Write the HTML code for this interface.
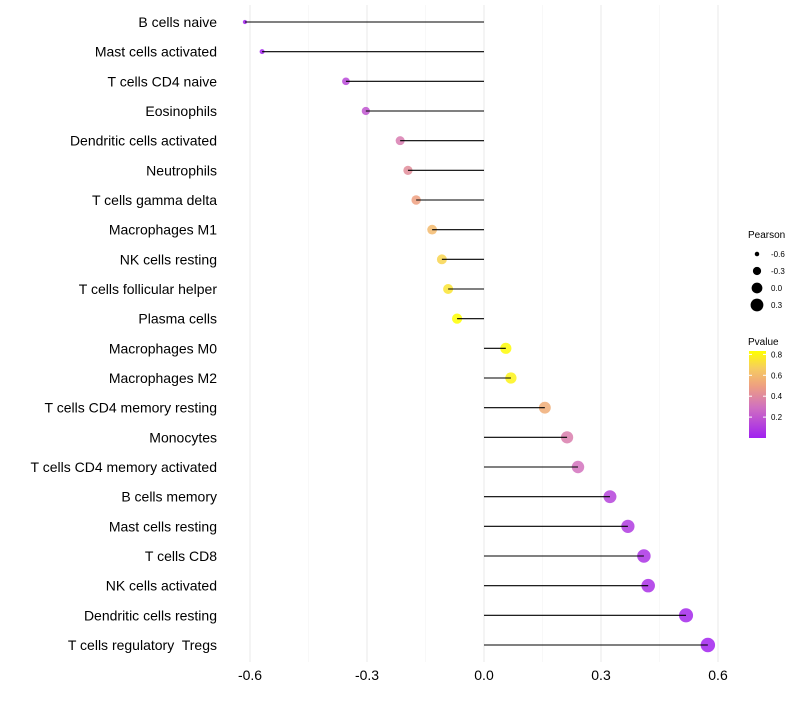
<!DOCTYPE html>
<html><head><meta charset="utf-8"><style>
body{margin:0;background:#fff;font-family:"Liberation Sans",sans-serif;}
svg text{font-family:"Liberation Sans",sans-serif;white-space:pre;}
</style></head><body>
<svg id="chart" width="800" height="700" xmlns="http://www.w3.org/2000/svg">
<defs><linearGradient id="pgrad" x1="0" y1="1" x2="0" y2="0">
<stop offset="0" stop-color="#a020f0"/><stop offset="0.35" stop-color="#d070c0"/><stop offset="0.6" stop-color="#eea080"/><stop offset="0.8" stop-color="#f6cc60"/><stop offset="1" stop-color="#ffff00"/>
</linearGradient></defs>
<g id="grid"></g>
<g id="marks"></g>
<g id="axes"></g>
<g>
<text x="748" y="238" font-size="10">Pearson</text>
<g id="sizeLeg"></g>
</g>
<g>
<text x="748" y="345" font-size="10">Pvalue</text>
<rect x="749" y="351" width="17" height="87" fill="url(#pgrad)"/>
<g id="colLeg"></g>
</g>
</svg>
<script>
const categories=["B cells naive","Mast cells activated","T cells CD4 naive","Eosinophils","Dendritic cells activated","Neutrophils","T cells gamma delta","Macrophages M1","NK cells resting","T cells follicular helper","Plasma cells","Macrophages M0","Macrophages M2","T cells CD4 memory resting","Monocytes","T cells CD4 memory activated","B cells memory","Mast cells resting","T cells CD8","NK cells activated","Dendritic cells resting","T cells regulatory  Tregs"];
const pearson=[-0.613,-0.569,-0.354,-0.303,-0.215,-0.195,-0.174,-0.133,-0.108,-0.092,-0.069,0.056,0.069,0.156,0.213,0.241,0.323,0.369,0.41,0.421,0.518,0.574];
const pvalue=[0.01,0.02,0.15,0.2,0.35,0.42,0.5,0.6,0.7,0.75,0.84,0.83,0.8,0.55,0.36,0.31,0.13,0.1,0.07,0.06,0.03,0.01];
const xTicks=[-0.6,-0.3,0.0,0.3,0.6];
const xTickLabels=["-0.6","-0.3","0.0","0.3","0.6"];
const sizeLegVals=[-0.6,-0.3,0.0,0.3];
const colLegVals=[0.2,0.4,0.6,0.8];

const NS="http://www.w3.org/2000/svg";
const X=v=>484+v*390;
const Y=i=>22+i*(623/21);
const R=v=>Math.sqrt(Math.max(2,29+40*v));
const P2Y=p=>438-p*104.5;
const stops=[[0,[160,32,240]],[0.3,[208,112,192]],[0.5,[238,160,128]],[0.67,[246,204,96]],[0.84,[255,255,0]]];
function col(p){p=Math.max(0,Math.min(0.84,p));for(let k=1;k<stops.length;k++){if(p<=stops[k][0]){const a=stops[k-1],b=stops[k],t=(p-a[0])/(b[0]-a[0]);return "rgb("+a[1].map((c,j)=>Math.round(c+(b[1][j]-c)*t)).join(",")+")";}}return "rgb(255,255,0)";}
function mk(tag,attrs,parent){const e=document.createElementNS(NS,tag);for(const k in attrs)e.setAttribute(k,attrs[k]);parent.appendChild(e);return e;}
const grid=document.getElementById('grid'),marks=document.getElementById('marks'),axes=document.getElementById('axes');
for(let k=0;k<xTicks.length;k++){
 const l=mk('line',{x1:X(xTicks[k]),x2:X(xTicks[k]),y1:5,y2:662,stroke:'#ebebeb','stroke-width':1.1},grid);
 
 
 if(k<xTicks.length-1){const m=(xTicks[k]+xTicks[k+1])/2;
 const l2=mk('line',{x1:X(m),x2:X(m),y1:5,y2:662,stroke:'#f4f4f4','stroke-width':0.6},grid);
 
 }
 const t=mk('text',{x:X(xTicks[k]),y:680,'font-size':14,'text-anchor':'middle',fill:'#000'},axes);
 t.textContent=xTickLabels[k];
 
 
}
categories.forEach((c,i)=>{
 const y=Y(i);
 const t=mk('text',{x:217,y:y+5,'font-size':14,'text-anchor':'end',fill:'#000'},axes);
 t.textContent=c;
 
 
 const pt=mk('circle',{cx:X(pearson[i]),cy:y,r:R(pearson[i]),fill:col(pvalue[i]),'fill-opacity':0.85},marks);
 
 
 const sg=mk('line',{x1:X(0),x2:X(pearson[i]),y1:y,y2:y,stroke:'#000','stroke-width':1.1},marks);
 
 
});
const sl=document.getElementById('sizeLeg');
sizeLegVals.forEach((v,k)=>{const y=254+k*17;
 const c=mk('circle',{cx:757,cy:y,r:R(v),fill:'#000'},sl);
 
 
 const t=mk('text',{x:771,y:y+3,'font-size':8},sl);t.textContent=v.toFixed(1);
 
 
});
const cl=document.getElementById('colLeg');
colLegVals.forEach(v=>{const y=P2Y(v);
 mk('line',{x1:749,x2:752,y1:y,y2:y,stroke:'#fff'},cl);mk('line',{x1:763,x2:766,y1:y,y2:y,stroke:'#fff'},cl);
 const t=mk('text',{x:771,y:y+3,'font-size':8},cl);t.textContent=v.toFixed(1);
 
 
});
</script>
</body></html>
